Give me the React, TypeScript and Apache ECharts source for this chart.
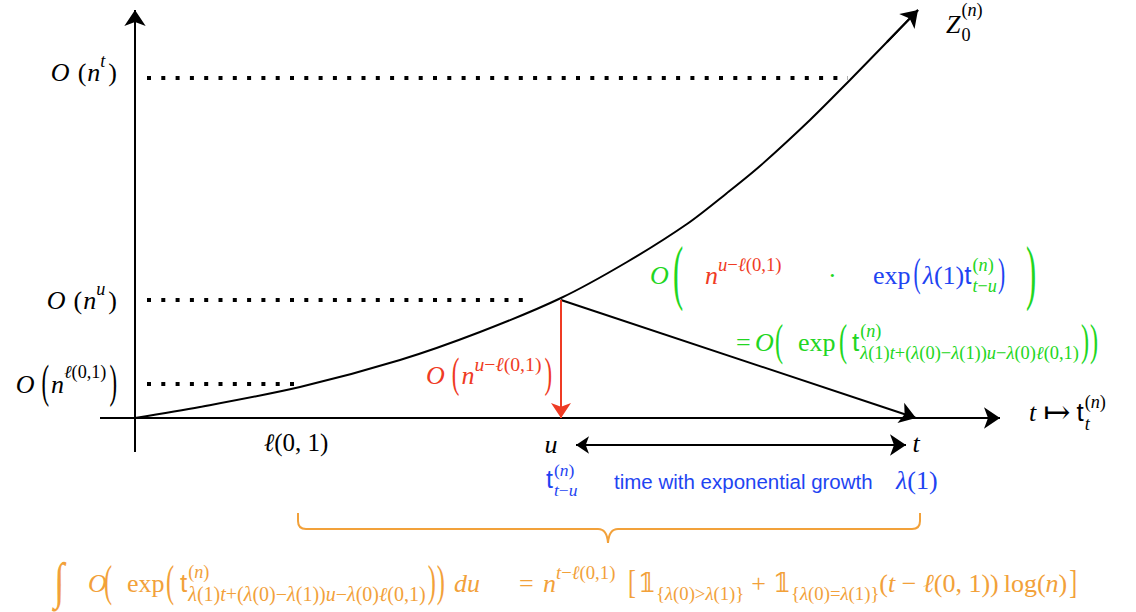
import React, { useEffect, useRef } from "react";
import * as echarts from "echarts";

const W = 1136;
const H = 612;

// ---- data (plot units = picture pixels, y downward) ----
// Curve Z_0^(n), points
const curveX = [135, 200, 300, 400, 480, 561, 627, 687, 727, 760, 810, 850, 887, 918];
const curveY = [418, 407, 387, 360, 332, 298, 262, 224, 193, 166, 120, 80, 42, 10];

// Dotted guides at O(n^t), O(n^u), O(n^ℓ(0,1))
const guideY = [78, 300, 384];
const guideEnd = [848, 532, 300];
const guideStart = 147;

// Axes and arrows
const xAxisSeg = [[100, 418], [1000, 418]];
const yAxisSeg = [[135, 452], [135, 10]];
const decaySeg = [[561, 300], [916, 418]];
const dropSeg = [[561, 300], [561, 418]];
const spanSeg = [[576, 445], [906, 445]];

// ---- colours / fonts ----
const G = "#22d622";
const RED = "#ef3b24";
const BLUE = "#1e44f2";
const ORG = "#f2a13a";
const SERIF = '"Liberation Serif", "DejaVu Serif", serif';
const SANS = '"Liberation Sans", "DejaVu Sans", sans-serif';

const braceD =
  "M298,513 L298,521 Q298,529 306,529 L598,529 Q607,529 608,543 Q609,529 618,529 L912,529 Q920,529 920,521 L920,513";
echarts.graphic.registerShape("brace", echarts.graphic.extendPath(braceD, {}));

type Part = {
  t?: string;
  it?: boolean;
  sf?: boolean;
  s?: number;
  dy?: number;
  c?: string;
  sx?: number;
  g?: number;
  at?: number;
  up?: Part[];
  dn?: Part[];
};

let ctx2d: CanvasRenderingContext2D | null = null;
function textW(t: string, font: string) {
  if (!ctx2d) ctx2d = document.createElement("canvas").getContext("2d");
  ctx2d!.font = font;
  return ctx2d!.measureText(t).width;
}

function run(parts: Part[], x0: number, cy: number, base: number, color: string, out: any[] | null): number {
  let x = x0;
  for (const p of parts) {
    if (p.at !== undefined && out) x = p.at;
    x += p.g ?? 0;
    if (p.up || p.dn) {
      const wu = p.up ? run(p.up, x, cy, base, color, out) : 0;
      const wd = p.dn ? run(p.dn, x, cy, base, color, out) : 0;
      x += Math.max(wu, wd);
      continue;
    }
    const size = base * (p.s ?? 1);
    const font = `${p.it ? "italic " : ""}${size}px ${p.sf ? SANS : SERIF}`;
    const sx = p.sx ?? 1;
    const w = textW(p.t || "", font) * sx;
    if (out) {
      out.push({
        type: "text",
        x,
        y: cy + (p.dy ?? 0) * base,
        scaleX: sx,
        silent: true,
        z: 10,
        style: {
          text: p.t,
          font,
          fill: p.c ?? color,
          align: "left",
          verticalAlign: "middle",
        },
      });
    }
    x += w;
  }
  return x - x0;
}

function expr(parts: Part[], x: number, cy: number, base: number, color: string, anchor = "left") {
  let x0 = x;
  if (anchor !== "left") {
    const w = run(parts, 0, cy, base, color, null);
    x0 = anchor === "right" ? x - w : x - w / 2;
  }
  const out: any[] = [];
  run(parts, x0, cy, base, color, out);
  return out;
}

const r = (t: string, o: Part = {}): Part => ({ t, ...o });
const it = (t: string, o: Part = {}): Part => ({ t, it: true, ...o });
const sup = (ps: Part[], dy = -0.42, s = 0.7): Part[] => ps.map((p) => ({ ...p, s: (p.s ?? 1) * s, dy }));
const sub = (ps: Part[], dy = 0.42, s = 0.7): Part[] => sup(ps, dy, s);
const col = (ps: Part[], c: string): Part[] => ps.map((p) => ({ ...p, c }));
const big = (t: string, s: number, sx: number, o: Part = {}): Part => ({ t, s, sx, dy: -0.045 * s, ...o });

const parenN = [r("("), it("n"), r(")")];
const uMinusL = [it("u"), r("−"), it("ℓ"), r("(0,1)")];
const tMinusL = [it("t"), r("−"), it("ℓ"), r("(0,1)")];
const tMinusU = [it("t"), r("−"), it("u")];
const lambdaSub = [
  it("λ"), r("(1)"), it("t"), r("+("), it("λ"), r("(0)−"), it("λ"), r("(1))"),
  it("u"), r("−"), it("λ"), r("(0)"), it("ℓ"), r("(0,1)"),
];
const indGt = [r("{"), it("λ"), r("(0)>"), it("λ"), r("(1)}")];
const indEq = [r("{"), it("λ"), r("(0)="), it("λ"), r("(1)}")];

function buildGraphics() {
  const els: any[] = [];
  const add = (a: any[]) => els.push(...a);
  const B = 26;
  // y-axis labels
  add(expr([it("O"), r("(", { g: 8 }), it("n", { g: 1 }), ...sup([it("t")]), r(")", { g: 3 })], 117, 72, B, "#000", "right"));
  add(expr([it("O"), r("(", { g: 8 }), it("n", { g: 1 }), ...sup([it("u")]), r(")", { g: 3 })], 117, 300, B, "#000", "right"));
  add(expr([it("O"), big("(", 1.75, 0.5, { g: 7 }), it("n", { g: 2 }), ...sup([it("ℓ"), r("(0,1)")], -0.45), big(")", 1.75, 0.5, { g: 3 })], 117, 384, B, "#000", "right"));
  // x-axis labels
  add(expr([it("ℓ"), r("(0, 1)")], 296, 442, 25, "#000", "center"));
  add(expr([it("u")], 551, 444, B, "#000", "center"));
  add(expr([it("t")], 916, 443, B, "#000", "center"));
  add(expr([r("t", { sf: true }), { g: 1, up: sup(parenN, -0.36), dn: sub(tMinusU, 0.42) }], 546, 479, 25, BLUE));
  els.push({
    type: "text", x: 614, y: 481, silent: true, z: 10,
    style: { text: "time with exponential growth", font: `20.5px ${SANS}`, fill: BLUE, align: "left", verticalAlign: "middle" },
  });
  add(expr([it("λ"), r("(1)")], 896, 480, B, BLUE));
  add(expr([it("t"), r("↦", { g: 7, s: 1.25 }), r("t", { sf: true, g: 6 }), { g: 1, up: sup(parenN, -0.4), dn: sub([it("t")], 0.45) }], 1029, 412, B, "#000"));
  add(expr([it("Z"), { g: 1, up: sup(parenN, -0.55), dn: sub([r("0")], 0.42) }], 946, 24, B, "#000"));
  // green product line
  add(expr([
    it("O", { at: 650 }),
    big("(", 2.8, 0.42, { at: 673 }),
    ...col([it("n", { at: 705 }), ...sup(uMinusL, -0.42, 0.72)], RED),
    r("·", { at: 828 }),
    ...col([
      r("exp", { at: 873 }),
      big("(", 1.5, 0.55, { g: 3 }),
      it("λ", { g: 2 }), r("(1)"), r("t", { sf: true }),
      { g: 1, up: sup(parenN, -0.38), dn: sub(tMinusU, 0.42) },
      big(")", 1.5, 0.55, { g: 1 }),
    ], BLUE),
    big(")", 2.8, 0.42, { at: 1026 }),
  ], 650, 275, B, G));
  add(expr([
    r("=", { at: 736 }),
    it("O", { at: 755 }),
    big("(", 1.7, 0.55, { at: 775 }),
    r("exp", { at: 798 }),
    big("(", 1.7, 0.55, { at: 839 }),
    r("t", { sf: true, at: 852 }),
    { g: 1, up: sup(parenN, -0.42), dn: sub(lambdaSub, 0.42, 0.71) },
    big(")", 1.7, 0.55, { g: 2 }),
    big(")", 1.7, 0.55, { g: 1 }),
  ], 736, 342, B, G));
  // red label
  add(expr([it("O"), big("(", 1.6, 0.55, { g: 7 }), it("n", { g: 2 }), ...sup(uMinusL, -0.42, 0.76), big(")", 1.6, 0.55, { g: 3 })], 426, 375, B, RED));
  // orange bottom formula
  add(expr([
    big("∫", 1.95, 0.75, { at: 54 }),
    it("O", { at: 88 }),
    big("(", 1.7, 0.55, { at: 104 }),
    r("exp", { at: 127 }),
    big("(", 1.7, 0.55, { at: 166 }),
    r("t", { sf: true, at: 180 }),
    { g: 1, up: sup(parenN, -0.42), dn: sub(lambdaSub, 0.42, 0.77) },
    big(")", 1.7, 0.55, { g: 2 }),
    big(")", 1.7, 0.55, { g: 1 }),
    it("du", { g: 9 }),
    r("=", { at: 519 }),
    it("n", { at: 543 }),
    ...sup(tMinusL, -0.42, 0.72),
    big("[", 1.3, 0.7, { at: 628 }),
    r("𝟙", { g: 2 }),
    ...sub(indGt, 0.42, 0.72),
    r("+", { g: 7 }),
    r("𝟙", { g: 7 }),
    ...sub(indEq, 0.42, 0.72),
    r("("), it("t"), r(" − "), it("ℓ"), r("(0, 1))"), r("log(", { g: 5 }), it("n"), r(")"),
    big("]", 1.3, 0.7, { g: 2 }),
  ], 54, 583, B, ORG));
  // brace
  els.push({ type: "brace", silent: true, z: 5, style: { stroke: ORG, lineWidth: 2, fill: "none" } });
  return els;
}

function buildOption() {
  const n = curveX.length;
  const curveTail = [[curveX[n - 2], curveY[n - 2]], [curveX[n - 1], curveY[n - 1]]];
  const arrowLines = (data: any[], color: string, sym: any, size: any, width = 2) => ({
    type: "lines",
    coordinateSystem: "cartesian2d",
    data: data.map((coords) => ({ coords })),
    symbol: sym,
    symbolSize: size,
    silent: true,
    z: 4,
    lineStyle: { color, width, opacity: 1, curveness: 0 },
  });
  return {
    animation: false,
    backgroundColor: "#fff",
    grid: { left: 0, right: 0, top: 0, bottom: 0 },
    xAxis: { type: "value", min: 0, max: W, show: false },
    yAxis: { type: "value", min: 0, max: H, inverse: true, show: false },
    series: [
      {
        type: "line",
        data: curveX.map((x, k) => [x, curveY[k]]),
        smooth: 0.3,
        symbol: "none",
        silent: true,
        clip: false,
        z: 3,
        lineStyle: { color: "#000", width: 2 },
      },
      ...guideY.map((y, k) => ({
        type: "line",
        data: [[guideStart, y], [guideEnd[k], y]],
        symbol: "none",
        silent: true,
        clip: false,
        lineStyle: { color: "#000", width: 4, type: [4, 10.3], cap: "butt" },
      })),
      arrowLines([xAxisSeg, yAxisSeg, decaySeg, curveTail], "#000", ["none", "arrow"], [13, 16]),
      arrowLines([dropSeg], RED, ["none", "arrow"], [11, 15]),
      arrowLines([spanSeg], "#000", ["arrow", "arrow"], [13, 16]),
    ],
    graphic: { elements: buildGraphics() },
  };
}

export default function App() {
  const ref = useRef<HTMLDivElement>(null);
  useEffect(() => {
    const chart = echarts.init(ref.current!, null, { renderer: "svg" });
    chart.setOption(buildOption() as any);
    return () => chart.dispose();
  }, []);
  return (
    <div
      ref={ref}
      style={{ position: "fixed", left: 0, top: 0, width: W, height: H, background: "#fff" }}
    />
  );
}
